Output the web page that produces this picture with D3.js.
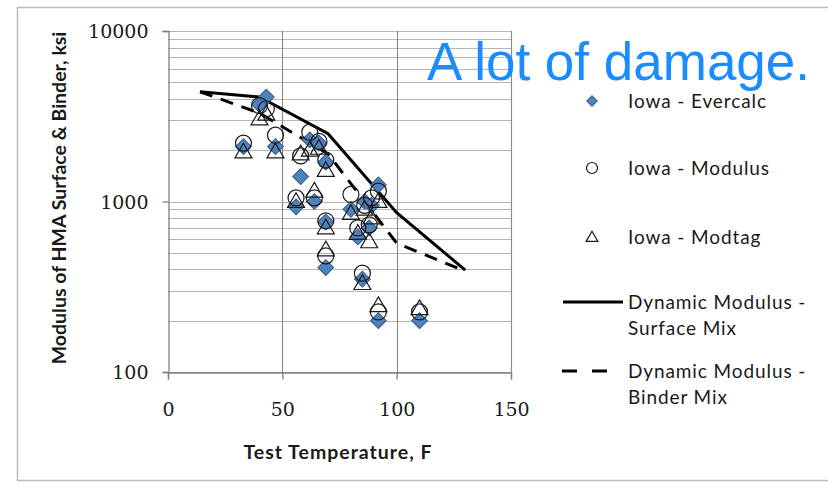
<!DOCTYPE html>
<html>
<head>
<meta charset="utf-8">
<script src="https://cdn.jsdelivr.net/npm/d3@7"></script>
<style>
  body { margin: 0; background: #fff; }
  svg text { fill: #1a1a1a; }
</style>
</head>
<body>
<div id="chart"></div>
<script>
////////////////////////////////////////////////////////////////////////////////
// Data
const testTemps = [33, 40, 43, 47, 56, 58, 62, 64, 66, 69, 69, 69, 80, 83, 85, 86, 88, 89, 92, 92, 110];
const evercalc  = [2100, 3700, 4100, 2100, 930, 1400, 2300, 1000, 2200, 1700, 760, 410, 900, 620, 350, 1000, 700, 950, 1250, 200, 200];
const modulus   = [2200, 3650, 3500, 2450, 1050, 1850, 2550, 1050, 2250, 1750, 770, 480, 1100, 700, 380, 950, 730, 1050, 1150, 225, 225];
const modtag    = [1950, 3050, 3250, 1950, 1000, 1900, 2000, 1150, 2050, 1520, 700, 520, 850, 650, 330, 900, 580, 800, 1000, 245, 235];

const mixTemps    = [14, 40, 70, 100, 130];
const surfaceMix  = [4400, 4100, 2500, 860, 396];
const binderMix   = [4400, 3300, 1900, 570, 390];

const xTicks = [0, 50, 100, 150];
const yTicks = [100, 1000, 10000];

const legendItems = [
  { key: 'diamond', label: ['Iowa - Evercalc'] },
  { key: 'circle',  label: ['Iowa - Modulus'] },
  { key: 'triangle', label: ['Iowa - Modtag'] },
  { key: 'solid',   label: ['Dynamic Modulus -', 'Surface Mix'] },
  { key: 'dashed',  label: ['Dynamic Modulus -', 'Binder Mix'] },
];

function init () {
  const width = 828;
  const height = 489;
  const plot = { left: 168, right: 511, top: 31, bottom: 372 };

  const svg = d3.select('#chart').append('svg')
    .attr('width', width)
    .attr('height', height);

  // chart frame
  svg.append('path')
    .attr('d', `M${width},7.5 H17.5 V480.5 H${width}`)
    .attr('fill', 'none')
    .attr('stroke', '#bdbdbd')
    .attr('stroke-width', 1.5);

  const x = d3.scaleLinear().domain([0, 150]).range([plot.left, plot.right]);
  const y = d3.scaleLog().domain([100, 10000]).range([plot.bottom, plot.top]);

  ////////////////////////////////////////////////////////////////////////////////
  // Grid
  const grid = svg.append('g').attr('class', 'grid');
  grid.selectAll('.hline')
    .data(y.ticks())
    .enter()
      .append('line')
      .attr('x1', plot.left).attr('x2', plot.right)
      .attr('y1', d => Math.round(y(d)) + 0.5).attr('y2', d => Math.round(y(d)) + 0.5)
      .attr('stroke', '#b5b5b5')
      .attr('stroke-width', 1.2);
  grid.selectAll('.vline')
    .data(xTicks.slice(1))
    .enter()
      .append('line')
      .attr('y1', plot.top).attr('y2', plot.bottom)
      .attr('x1', d => Math.round(x(d)) + 0.5).attr('x2', d => Math.round(x(d)) + 0.5)
      .attr('stroke', '#8c8c8c')
      .attr('stroke-width', 1.2);

  ////////////////////////////////////////////////////////////////////////////////
  // Axes
  const yAxis = svg.append('g')
    .attr('transform', `translate(${plot.left + 0.5},0)`)
    .call(d3.axisLeft(y).tickValues(yTicks).tickFormat(d3.format('d')).tickSize(6).tickPadding(14));
  const xAxis = svg.append('g')
    .attr('transform', `translate(0,${plot.bottom + 0.5})`)
    .call(d3.axisBottom(x).tickValues(xTicks).tickSize(7).tickPadding(23));

  [yAxis, xAxis].forEach(a => {
    a.select('.domain').attr('stroke', '#808080').attr('stroke-width', 1.3);
    a.selectAll('.tick line').attr('stroke', '#808080').attr('stroke-width', 1.3);
    a.selectAll('.tick text')
      .attr('font-family', '"DejaVu Serif", serif')
      .attr('font-size', 19)
      .attr('fill', '#1a1a1a');
  });
  yAxis.selectAll('.tick text').attr('dy', '0.35em');

  svg.append('text')
    .attr('transform', 'translate(66,198) rotate(-90)')
    .attr('text-anchor', 'middle')
    .attr('font-family', 'Lato, sans-serif')
    .attr('font-weight', 'bold')
    .attr('font-size', 19.5)
    .text('Modulus of HMA Surface & Binder, ksi');

  svg.append('text')
    .attr('x', 338).attr('y', 459)
    .attr('text-anchor', 'middle')
    .attr('font-family', 'Lato, sans-serif')
    .attr('font-weight', 'bold')
    .attr('font-size', 19.5)
    .attr('letter-spacing', 1)
    .text('Test Temperature, F');

  ////////////////////////////////////////////////////////////////////////////////
  // Dynamic modulus curves
  const line = d3.line()
    .x(d => x(d[0]))
    .y(d => y(d[1]));

  svg.append('path')
    .datum(d3.zip(mixTemps, binderMix))
    .attr('d', line)
    .attr('fill', 'none')
    .attr('stroke', '#000')
    .attr('stroke-width', 3)
    .attr('stroke-dasharray', '13,9');

  svg.append('path')
    .datum(d3.zip(mixTemps, surfaceMix))
    .attr('d', line)
    .attr('fill', 'none')
    .attr('stroke', '#000')
    .attr('stroke-width', 3);

  ////////////////////////////////////////////////////////////////////////////////
  // Markers
  const diamond = d3.symbol().type(d3.symbolSquare).size(125);
  const triangle = d3.symbol().type(d3.symbolTriangle).size(125);

  svg.append('g').selectAll('path')
    .data(d3.zip(testTemps, evercalc))
    .enter()
      .append('path')
      .attr('transform', d => `translate(${x(d[0])},${y(d[1])}) rotate(45)`)
      .attr('d', diamond)
      .attr('fill', '#4f81bd')
      .attr('stroke', '#385d8a')
      .attr('stroke-width', 1);

  svg.append('g').selectAll('circle')
    .data(d3.zip(testTemps, modulus))
    .enter()
      .append('circle')
      .attr('cx', d => x(d[0]))
      .attr('cy', d => y(d[1]))
      .attr('r', 8)
      .attr('fill', 'none')
      .attr('stroke', '#1a1a1a')
      .attr('stroke-width', 1.2);

  svg.append('g').selectAll('path')
    .data(d3.zip(testTemps, modtag))
    .enter()
      .append('path')
      .attr('transform', d => `translate(${x(d[0])},${y(d[1]) + 1})`)
      .attr('d', triangle)
      .attr('fill', 'none')
      .attr('stroke', '#1a1a1a')
      .attr('stroke-width', 1.2);

  ////////////////////////////////////////////////////////////////////////////////
  // Legend
  const legendY = [101, 168, 237, 302, 371];
  const legend = svg.append('g').attr('class', 'legend');
  legendItems.forEach((item, i) => {
    const g = legend.append('g').attr('transform', `translate(0,${legendY[i]})`);
    if (item.key === 'diamond') {
      g.append('path')
        .attr('transform', 'translate(592,0) rotate(45)')
        .attr('d', d3.symbol().type(d3.symbolSquare).size(55))
        .attr('fill', '#4f81bd').attr('stroke', '#385d8a');
    } else if (item.key === 'circle') {
      g.append('circle')
        .attr('cx', 592).attr('r', 5.5)
        .attr('fill', 'none').attr('stroke', '#1a1a1a').attr('stroke-width', 1.2);
    } else if (item.key === 'triangle') {
      g.append('path')
        .attr('transform', 'translate(592,1)')
        .attr('d', d3.symbol().type(d3.symbolTriangle).size(60))
        .attr('fill', 'none').attr('stroke', '#1a1a1a').attr('stroke-width', 1.2);
    } else {
      g.append('line')
        .attr('x1', item.key === 'solid' ? 563 : 562).attr('x2', item.key === 'solid' ? 623 : 608)
        .attr('stroke', '#000').attr('stroke-width', 3)
        .attr('stroke-dasharray', item.key === 'dashed' ? '15,15' : null);
    }
    item.label.forEach((t, j) => {
      g.append('text')
        .attr('x', 628).attr('y', j * 26)
        .attr('dy', '0.35em')
        .attr('font-family', 'Lato, sans-serif')
        .attr('font-size', 19)
        .attr('letter-spacing', 0.9)
        .text(t);
    });
  });

  ////////////////////////////////////////////////////////////////////////////////
  // Overlay note
  svg.append('text')
    .attr('x', 427).attr('y', 80)
    .attr('font-family', '"Liberation Sans", Arial, sans-serif')
    .attr('font-size', 53)
    .style('fill', '#1a8cff')
    .text('A lot of damage.');
}
init();
</script>
</body>
</html>
